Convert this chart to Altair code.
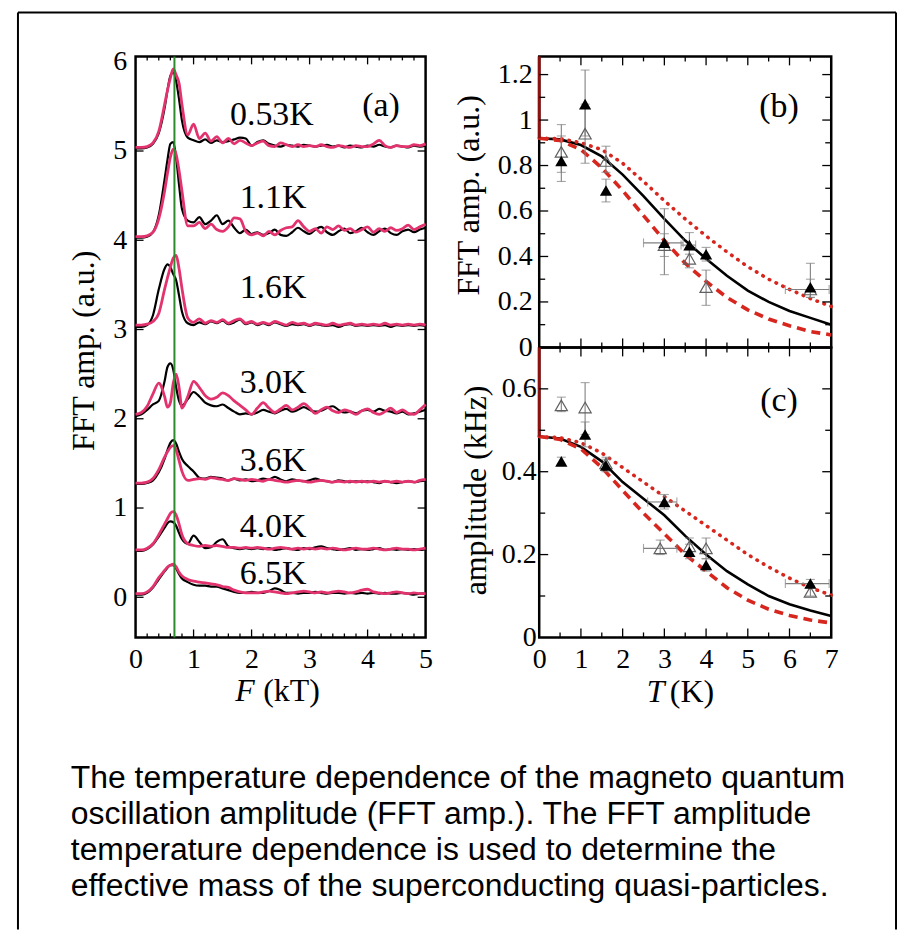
import altair as alt
import pandas as pd

# ---------------- panel (a): FFT spectra ----------------
F = [0.0, 0.1, 0.2, 0.3, 0.4, 0.5, 0.55, 0.6, 0.65, 0.7, 0.75, 0.8,
     0.9, 1.0, 1.1, 1.2, 1.3, 1.4, 1.5, 1.6, 1.7, 1.8, 1.9,
     2.0, 2.1, 2.2, 2.3, 2.4, 2.5, 2.6, 2.7, 2.8, 2.9,
     3.0, 3.1, 3.2, 3.3, 3.4, 3.5, 3.6, 3.7, 3.8, 3.9,
     4.0, 4.1, 4.2, 4.3, 4.4, 4.5, 4.6, 4.7, 4.8, 4.9, 5.0]

temps = ["0.53K", "1.1K", "1.6K", "3.0K", "3.6K", "4.0K", "6.5K"]
offsets = [5.0, 4.0, 3.0, 2.0, 1.25, 0.5, 0.0]
label_F = [2.35, 2.37, 2.37, 2.37, 2.37, 2.37, 2.37]
label_y = [5.40, 4.47, 3.46, 2.40, 1.53, 0.79, 0.26]

pink_053 = [0.04, 0.04, 0.05, 0.09, 0.22, 0.52, 0.68, 0.82, 0.92, 0.85, 0.76, 0.52,
            0.18, 0.30, 0.14, 0.20, 0.11, 0.16, 0.09, 0.14, 0.08, 0.12, 0.09,
            0.06, 0.09, 0.11, 0.06, 0.05, 0.09, 0.07, 0.05, 0.07, 0.05,
            0.06, 0.05, 0.07, 0.05, 0.04, 0.06, 0.05, 0.04, 0.06, 0.05,
            0.05, 0.08, 0.12, 0.06, 0.04, 0.06, 0.05, 0.05, 0.07, 0.06, 0.08]
black_053 = [0.03, 0.03, 0.04, 0.08, 0.20, 0.48, 0.68, 0.84, 0.88, 0.78, 0.58, 0.34,
             0.15, 0.12, 0.10, 0.13, 0.09, 0.12, 0.10, 0.11, 0.13, 0.15, 0.14,
             0.06, 0.10, 0.12, 0.08, 0.06, 0.05, 0.07, 0.06, 0.05, 0.07,
             0.06, 0.05, 0.06, 0.07, 0.05, 0.06, 0.04, 0.06, 0.05, 0.04,
             0.06, 0.05, 0.07, 0.05, 0.04, 0.06, 0.05, 0.04, 0.06, 0.05, 0.06]
pink_11 = [0.04, 0.04, 0.05, 0.09, 0.24, 0.55, 0.75, 0.93, 1.02, 0.96, 0.78, 0.55,
           0.16, 0.16, 0.20, 0.13, 0.18, 0.12, 0.10, 0.15, 0.25, 0.24, 0.10,
           0.06, 0.08, 0.05, 0.10, 0.06, 0.11, 0.14, 0.15, 0.22, 0.15,
           0.10, 0.13, 0.08, 0.15, 0.12, 0.16, 0.11, 0.13, 0.09, 0.12,
           0.15, 0.09, 0.13, 0.10, 0.14, 0.11, 0.13, 0.17, 0.12, 0.15, 0.18]
black_11 = [0.03, 0.03, 0.04, 0.09, 0.28, 0.68, 0.90, 1.08, 1.10, 0.92, 0.62, 0.35,
            0.22, 0.20, 0.26, 0.18, 0.22, 0.28, 0.18, 0.22, 0.14, 0.08, 0.12,
            0.07, 0.09, 0.06, 0.08, 0.12, 0.06, 0.05, 0.09, 0.14, 0.10,
            0.07, 0.12, 0.15, 0.09, 0.06, 0.10, 0.13, 0.08, 0.10, 0.14,
            0.09, 0.06, 0.10, 0.13, 0.08, 0.06, 0.10, 0.12, 0.09, 0.12, 0.14]
pink_16 = [0.05, 0.05, 0.06, 0.09, 0.18, 0.45, 0.58, 0.70, 0.80, 0.83, 0.68, 0.46,
           0.13, 0.08, 0.12, 0.07, 0.10, 0.08, 0.11, 0.07, 0.10, 0.12, 0.07,
           0.09, 0.06, 0.08, 0.06, 0.09, 0.07, 0.05, 0.08, 0.06, 0.07,
           0.05, 0.07, 0.06, 0.05, 0.07, 0.05, 0.06, 0.07, 0.05, 0.06,
           0.05, 0.06, 0.05, 0.07, 0.05, 0.06, 0.05, 0.06, 0.05, 0.06, 0.05]
black_16 = [0.03, 0.03, 0.05, 0.16, 0.45, 0.68, 0.73, 0.70, 0.62, 0.55, 0.38, 0.20,
            0.07, 0.05, 0.08, 0.06, 0.09, 0.07, 0.10, 0.06, 0.08, 0.11, 0.06,
            0.08, 0.05, 0.07, 0.05, 0.08, 0.06, 0.04, 0.06, 0.05, 0.06,
            0.04, 0.06, 0.05, 0.04, 0.05, 0.03, 0.05, 0.06, 0.04, 0.05,
            0.04, 0.05, 0.04, 0.05, 0.03, 0.05, 0.04, 0.05, 0.04, 0.05, 0.04]
pink_30 = [0.05, 0.07, 0.14, 0.28, 0.40, 0.25, 0.13, 0.18, 0.40, 0.50, 0.35, 0.12,
           0.25, 0.42, 0.35, 0.26, 0.22, 0.24, 0.29, 0.26, 0.20, 0.15, 0.10,
           0.05, 0.12, 0.18, 0.12, 0.07, 0.11, 0.15, 0.10, 0.13, 0.17,
           0.12, 0.06, 0.10, 0.13, 0.09, 0.07, 0.10, 0.08, 0.05, 0.09,
           0.11, 0.07, 0.05, 0.08, 0.12, 0.07, 0.10, 0.06, 0.05, 0.10, 0.16]
black_30 = [0.03, 0.05, 0.10, 0.16, 0.20, 0.42, 0.58, 0.62, 0.55, 0.35, 0.20, 0.15,
            0.22, 0.30, 0.25, 0.18, 0.15, 0.14, 0.16, 0.12, 0.08, 0.05, 0.06,
            0.05, 0.07, 0.10, 0.08, 0.06, 0.09, 0.11, 0.08, 0.10, 0.13,
            0.10, 0.08, 0.09, 0.12, 0.14, 0.10, 0.07, 0.08, 0.06, 0.09,
            0.10, 0.08, 0.11, 0.09, 0.08, 0.06, 0.08, 0.05, 0.06, 0.08, 0.10]
pink_36 = [0.03, 0.03, 0.04, 0.08, 0.18, 0.32, 0.38, 0.43, 0.45, 0.40, 0.28, 0.16,
           0.06, 0.07, 0.08, 0.07, 0.09, 0.08, 0.07, 0.06, 0.08, 0.07, 0.06,
           0.07, 0.06, 0.05, 0.07, 0.06, 0.05, 0.04, 0.05, 0.06, 0.05,
           0.04, 0.05, 0.06, 0.05, 0.04, 0.05, 0.04, 0.05, 0.04, 0.05,
           0.04, 0.05, 0.04, 0.05, 0.04, 0.05, 0.04, 0.05, 0.04, 0.06, 0.07]
black_36 = [0.02, 0.02, 0.03, 0.06, 0.15, 0.30, 0.40, 0.48, 0.51, 0.47, 0.38, 0.30,
            0.22, 0.16, 0.09, 0.08, 0.10, 0.09, 0.08, 0.06, 0.08, 0.06, 0.07,
            0.05, 0.06, 0.08, 0.07, 0.10, 0.07, 0.05, 0.07, 0.06, 0.05,
            0.06, 0.08, 0.06, 0.05, 0.04, 0.06, 0.05, 0.04, 0.05, 0.04,
            0.05, 0.04, 0.03, 0.05, 0.04, 0.03, 0.04, 0.05, 0.04, 0.05, 0.06]
pink_40 = [0.03, 0.03, 0.05, 0.10, 0.20, 0.32, 0.38, 0.44, 0.46, 0.42, 0.32, 0.20,
           0.10, 0.08, 0.07, 0.08, 0.07, 0.08, 0.07, 0.06, 0.06, 0.05, 0.06,
           0.05, 0.06, 0.05, 0.04, 0.05, 0.06, 0.05, 0.04, 0.05, 0.04,
           0.05, 0.04, 0.05, 0.04, 0.05, 0.04, 0.03, 0.04, 0.05, 0.04,
           0.04, 0.05, 0.04, 0.03, 0.04, 0.05, 0.04, 0.04, 0.03, 0.04, 0.05]
black_40 = [0.02, 0.02, 0.04, 0.09, 0.18, 0.28, 0.33, 0.35, 0.34, 0.30, 0.22, 0.15,
            0.10, 0.19, 0.12, 0.05, 0.06, 0.12, 0.15, 0.07, 0.05, 0.04, 0.05,
            0.04, 0.05, 0.04, 0.05, 0.03, 0.04, 0.05, 0.04, 0.03, 0.05,
            0.04, 0.06, 0.07, 0.05, 0.04, 0.03, 0.04, 0.05, 0.03, 0.04,
            0.03, 0.04, 0.05, 0.03, 0.04, 0.03, 0.04, 0.03, 0.04, 0.03, 0.04]
pink_65 = [0.04, 0.04, 0.06, 0.12, 0.22, 0.30, 0.34, 0.36, 0.37, 0.34, 0.28, 0.24,
           0.20, 0.18, 0.17, 0.16, 0.15, 0.14, 0.12, 0.11, 0.08, 0.06, 0.05,
           0.05, 0.05, 0.06, 0.07, 0.06, 0.05, 0.04, 0.05, 0.06, 0.07,
           0.06, 0.05, 0.06, 0.05, 0.06, 0.07, 0.06, 0.05, 0.06, 0.08,
           0.09, 0.06, 0.05, 0.04, 0.05, 0.06, 0.05, 0.04, 0.05, 0.04, 0.04]
black_65 = [0.03, 0.03, 0.05, 0.11, 0.20, 0.29, 0.33, 0.36, 0.36, 0.32, 0.26, 0.21,
            0.17, 0.14, 0.13, 0.13, 0.12, 0.12, 0.10, 0.08, 0.06, 0.05, 0.05,
            0.06, 0.05, 0.05, 0.07, 0.10, 0.08, 0.05, 0.05, 0.04, 0.05,
            0.05, 0.06, 0.05, 0.04, 0.05, 0.05, 0.04, 0.05, 0.04, 0.05,
            0.04, 0.05, 0.04, 0.05, 0.04, 0.04, 0.05, 0.04, 0.03, 0.04, 0.04]

pink_sets = [pink_053, pink_11, pink_16, pink_30, pink_36, pink_40, pink_65]
black_sets = [black_053, black_11, black_16, black_30, black_36, black_40, black_65]
green_F = [0.67]

a_x_labels = [0, 1, 2, 3, 4, 5]
a_y_labels = [0, 1, 2, 3, 4, 5, 6]
a_x_major = [1, 2, 3, 4]
a_x_minor = [0.2, 0.4, 0.6, 0.8, 1.2, 1.4, 1.6, 1.8, 2.2, 2.4, 2.6, 2.8,
             3.2, 3.4, 3.6, 3.8, 4.2, 4.4, 4.6, 4.8]
a_y_major = [0, 1, 2, 3, 4, 5]

# ---------------- panels (b) and (c): amplitude vs T ----------------
fit_T = [0.0, 0.5, 1.0, 1.5, 2.0, 2.5, 3.0, 3.5, 4.0, 4.5, 5.0, 5.5, 6.0, 6.5, 7.0]
b_fit_solid = [0.92, 0.915, 0.89, 0.84, 0.76, 0.665, 0.565, 0.47, 0.39, 0.315, 0.25, 0.20, 0.16, 0.13, 0.10]
b_fit_dotted = [0.92, 0.918, 0.90, 0.87, 0.81, 0.73, 0.645, 0.565, 0.49, 0.42, 0.355, 0.30, 0.255, 0.215, 0.18]
b_fit_dashed = [0.92, 0.91, 0.87, 0.79, 0.69, 0.58, 0.47, 0.37, 0.29, 0.22, 0.165, 0.125, 0.095, 0.07, 0.055]
c_fit_solid = [0.485, 0.48, 0.46, 0.425, 0.375, 0.335, 0.295, 0.245, 0.20, 0.16, 0.128, 0.10, 0.08, 0.065, 0.052]
c_fit_dotted = [0.485, 0.482, 0.47, 0.445, 0.41, 0.375, 0.34, 0.305, 0.27, 0.235, 0.20, 0.17, 0.143, 0.12, 0.102]
c_fit_dashed = [0.485, 0.478, 0.455, 0.41, 0.355, 0.30, 0.25, 0.20, 0.16, 0.12, 0.09, 0.068, 0.053, 0.042, 0.035]

pt_T = [0.53, 1.1, 1.6, 3.0, 3.6, 4.0, 6.5]
b_filled = [0.82, 1.07, 0.69, 0.46, 0.45, 0.41, 0.265]
b_filled_lo = [0.73, 0.93, 0.64, 0.32, 0.41, 0.38, 0.22]
b_filled_hi = [0.93, 1.22, 0.74, 0.61, 0.505, 0.44, 0.37]
b_open_T = [0.53, 1.1, 1.6, 3.0, 3.6, 4.0, 6.5]
b_open = [0.86, 0.94, 0.82, 0.45, 0.39, 0.265, 0.255]
b_open_lo = [0.77, 0.81, 0.77, 0.40, 0.35, 0.185, 0.22]
b_open_hi = [0.98, 1.07, 0.885, 0.50, 0.43, 0.34, 0.30]
b_h_y = [0.46, 0.45, 0.255]
b_h_lo = [2.5, 3.4, 5.9]
b_h_hi = [3.45, 3.75, 6.95]

c_filled = [0.425, 0.49, 0.415, 0.327, 0.207, 0.175, 0.13]
c_filled_lo = [0.415, 0.46, 0.40, 0.31, 0.19, 0.16, 0.12]
c_filled_hi = [0.435, 0.52, 0.43, 0.345, 0.225, 0.19, 0.14]
c_open_T = [0.53, 1.1, 1.6, 2.9, 3.6, 4.0, 6.5]
c_open = [0.56, 0.555, 0.42, 0.215, 0.22, 0.215, 0.11]
c_open_lo = [0.545, 0.49, 0.405, 0.20, 0.20, 0.19, 0.10]
c_open_hi = [0.58, 0.615, 0.435, 0.235, 0.24, 0.24, 0.125]
c_h_y = [0.327, 0.215, 0.13]
c_h_lo = [2.6, 2.5, 5.9]
c_h_hi = [3.3, 3.3, 6.95]

bc_x_labels = [0, 1, 2, 3, 4, 5, 6, 7]
bc_x_major = [1, 2, 3, 4, 5, 6]
bc_x_minor = [0.5, 1.5, 2.5, 3.5, 4.5, 5.5, 6.5]
b_y_labels = [0, 0.2, 0.4, 0.6, 0.8, 1, 1.2]
b_y_major = [0.2, 0.4, 0.6, 0.8, 1.0, 1.2]
b_y_minor = [0.1, 0.3, 0.5, 0.7, 0.9, 1.1]
c_y_labels = [0, 0.2, 0.4, 0.6]
c_y_major = [0.2, 0.4, 0.6]
c_y_minor = [0.1, 0.3, 0.5]

caption = ["The temperature dependence of the magneto quantum",
           "oscillation amplitude (FFT amp.). The FFT amplitude",
           "temperature dependence is used to determine the",
           "effective mass of the superconducting quasi-particles."]

SERIF = "Liberation Serif"
SANS = "Liberation Sans"
PINK = "#e2336e"
RED = "#d7261e"
LABEL_FS = 28
TITLE_FS = 32


def label_axis(values, title=None, pad=8, **kw):
    return alt.Axis(values=values, title=title, ticks=False, tickSize=0,
                    domain=False, grid=False, labelPadding=pad,
                    labelFont=SERIF, labelFontSize=LABEL_FS, labelColor="black",
                    labelFlush=False, labelOverlap=False, labelBound=False,
                    format="~g", titleFont=SERIF, titleFontSize=TITLE_FS,
                    titleFontWeight="normal", titleColor="black", **kw)


def tick_layers(xs, ys, xax, yax, w, h, xmaj, xmin, ymaj, ymin, Lmaj, Lmin_x, Lmin_y):
    out = []
    for vals, L in ((xmaj, Lmaj), (xmin, Lmin_x)):
        if vals:
            d = pd.DataFrame({"v": vals})
            base = alt.Chart(d).mark_rule(color="black", strokeWidth=1.3)
            out.append(base.encode(x=alt.X("v:Q", scale=xs, axis=xax),
                                   y=alt.value(h), y2=alt.value(h - L)))
            out.append(base.encode(x=alt.X("v:Q", scale=xs, axis=xax),
                                   y=alt.value(0), y2=alt.value(L)))
    for vals, L in ((ymaj, Lmaj), (ymin, Lmin_y)):
        if vals:
            d = pd.DataFrame({"v": vals})
            base = alt.Chart(d).mark_rule(color="black", strokeWidth=1.3)
            out.append(base.encode(y=alt.Y("v:Q", scale=ys, axis=yax),
                                   x=alt.value(0), x2=alt.value(L)))
            out.append(base.encode(y=alt.Y("v:Q", scale=ys, axis=yax),
                                   x=alt.value(w - L), x2=alt.value(w)))
    return out


one = pd.DataFrame({"k": [0]})

# ---------- panel (a) ----------
AW, AH = 291, 583
xa = alt.Scale(domain=[0, 5], nice=False, zero=False)
ya = alt.Scale(domain=[-0.45, 6.06], nice=False, zero=False)
xa_ax = label_axis(a_x_labels, pad=8)
ya_ax = label_axis(a_y_labels, title="FFT amp. (a.u.)", pad=9,
                   titleX=-52, titleY=295, titleBaseline="middle", titleAngle=-90)

rows_b, rows_p = [], []
for t, off, pk, bk in zip(temps, offsets, pink_sets, black_sets):
    for f, vp, vb in zip(F, pk, bk):
        rows_b.append({"F": f, "amp": off + vb, "T": t})
        rows_p.append({"F": f, "amp": off + vp, "T": t})
df_ab = pd.DataFrame(rows_b)
df_ap = pd.DataFrame(rows_p)

black_a = alt.Chart(df_ab).mark_line(color="black", strokeWidth=2.2, interpolate="monotone").encode(
    x=alt.X("F:Q", scale=xa, axis=xa_ax), y=alt.Y("amp:Q", scale=ya, axis=ya_ax), detail="T:N")
pink_a = alt.Chart(df_ap).mark_line(color=PINK, strokeWidth=2.8, interpolate="monotone").encode(
    x=alt.X("F:Q", scale=xa, axis=xa_ax), y=alt.Y("amp:Q", scale=ya, axis=ya_ax), detail="T:N")
green = alt.Chart(pd.DataFrame({"F": green_F})).mark_rule(color="#2d8a2d", strokeWidth=2).encode(
    x=alt.X("F:Q", scale=xa, axis=xa_ax), y=alt.value(0), y2=alt.value(AH))
lab_df = pd.DataFrame({"F": label_F + [4.23], "y": label_y + [5.50], "t": temps + ["(a)"]})
labels_a = alt.Chart(lab_df).mark_text(font=SERIF, fontSize=34, color="black").encode(
    x=alt.X("F:Q", scale=xa, axis=xa_ax), y=alt.Y("y:Q", scale=ya, axis=ya_ax), text="t:N")

xt_F = alt.Chart(one).mark_text(font=SERIF, fontSize=TITLE_FS, fontStyle="italic", align="left",
                                baseline="middle", color="black").encode(
    x=alt.value(100), y=alt.value(637), text=alt.value("F"))
xt_kT = alt.Chart(one).mark_text(font=SERIF, fontSize=TITLE_FS, align="left",
                                 baseline="middle", color="black").encode(
    x=alt.value(128), y=alt.value(637), text=alt.value("(kT)"))

FL, FR, FT, FB = -118, 763, -44, 876
frame_l = alt.Chart(one).mark_rule(color="black", strokeWidth=2).encode(
    x=alt.value(FL), y=alt.value(FT), y2=alt.value(FB))
frame_r = alt.Chart(one).mark_rule(color="black", strokeWidth=2).encode(
    x=alt.value(FR), y=alt.value(FT), y2=alt.value(FB))
frame_t = alt.Chart(one).mark_rule(color="black", strokeWidth=2).encode(
    x=alt.value(FL), x2=alt.value(FR), y=alt.value(FT))
cap = alt.Chart(one).mark_text(font=SANS, fontSize=32, lineHeight=36, align="left",
                               baseline="top", color="black").encode(
    x=alt.value(-65), y=alt.value(709), text=alt.value(caption))

panel_a = alt.layer(
    black_a, pink_a, green, labels_a, xt_F, xt_kT, frame_l, frame_r, frame_t, cap,
    *tick_layers(xa, ya, xa_ax, ya_ax, AW, AH, a_x_major, a_x_minor, a_y_major, [], 8, 4, 4)
).properties(width=AW, height=AH)


# ---------- panels (b), (c) ----------
def tpanel(w, h, ydom, fit_solid, fit_dot, fit_dash, filled, flo, fhi, oT, op, olo, ohi,
           hy, hlo, hhi, ylabels, ymaj, ymin, title, tX, tY, pad, show_x, tag, tag_y):
    xs = alt.Scale(domain=[0, 7], nice=False, zero=False)
    ys = alt.Scale(domain=ydom, nice=False, zero=False)
    xax = label_axis(bc_x_labels, pad=8) if show_x else None
    yax = label_axis(ylabels, title=title, pad=pad, titleX=tX, titleY=tY,
                     titleBaseline="middle", titleAngle=-90)

    def X(f):
        return alt.X(f, scale=xs, axis=xax)

    def Y(f):
        return alt.Y(f, scale=ys, axis=yax)

    fit = pd.DataFrame({"T": fit_T, "s": fit_solid, "d": fit_dot, "e": fit_dash})
    solid = alt.Chart(fit).mark_line(color="black", strokeWidth=2.6).encode(x=X("T:Q"), y=Y("s:Q"))
    dot = alt.Chart(fit).mark_line(color=RED, strokeWidth=3.6, strokeDash=[0.5, 7], strokeCap="round").encode(
        x=X("T:Q"), y=Y("d:Q"))
    dash = alt.Chart(fit).mark_line(color=RED, strokeWidth=3.6, strokeDash=[9, 6]).encode(
        x=X("T:Q"), y=Y("e:Q"))
    axis_red = alt.Chart(pd.DataFrame({"T": [0], "lo": [fit_solid[0]], "hi": [ydom[1]]})).mark_rule(
        color="#8b1010", strokeWidth=3).encode(x=X("T:Q"), y=Y("lo:Q"), y2="hi:Q")
    fdf = pd.DataFrame({"T": pt_T, "v": filled, "lo": flo, "hi": fhi})
    odf = pd.DataFrame({"T": oT, "v": op, "lo": olo, "hi": ohi})
    hdf = pd.DataFrame({"y": hy, "lo": hlo, "hi": hhi})
    err = []
    for d in (odf, fdf):
        err.append(alt.Chart(d).mark_rule(color="#808080", strokeWidth=1.1).encode(
            x=X("T:Q"), y=Y("lo:Q"), y2="hi:Q"))
        for fld in ("lo", "hi"):
            err.append(alt.Chart(d).mark_tick(color="#808080", orient="horizontal", size=9, thickness=1.1).encode(
                x=X("T:Q"), y=Y(fld + ":Q")))
    err.append(alt.Chart(hdf).mark_rule(color="#808080", strokeWidth=1.1).encode(
        x=X("lo:Q"), x2="hi:Q", y=Y("y:Q")))
    for fld in ("lo", "hi"):
        err.append(alt.Chart(hdf).mark_tick(color="#808080", orient="vertical", size=9, thickness=1.1).encode(
            x=X(fld + ":Q"), y=Y("y:Q")))
    opn = alt.Chart(odf).mark_point(shape="triangle-up", filled=False, size=150, color="#606060",
                                    strokeWidth=1.2, opacity=1).encode(x=X("T:Q"), y=Y("v:Q"))
    fil = alt.Chart(fdf).mark_point(shape="triangle-up", filled=True, size=150, color="black",
                                    opacity=1).encode(x=X("T:Q"), y=Y("v:Q"))
    tagc = alt.Chart(pd.DataFrame({"T": [5.75], "y": [tag_y], "t": [tag]})).mark_text(
        font=SERIF, fontSize=34, color="black").encode(x=X("T:Q"), y=Y("y:Q"), text="t:N")
    layers = [solid, dot, dash, axis_red] + err + [opn, fil, tagc]
    if show_x:
        layers.append(alt.Chart(one).mark_text(font=SERIF, fontSize=TITLE_FS, fontStyle="italic",
                                               align="left", baseline="middle", color="black").encode(
            x=alt.value(108), y=alt.value(346), text=alt.value("T")))
        layers.append(alt.Chart(one).mark_text(font=SERIF, fontSize=TITLE_FS, align="left",
                                               baseline="middle", color="black").encode(
            x=alt.value(131), y=alt.value(346), text=alt.value("(K)")))
    layers += tick_layers(xs, ys, xax, yax, w, h, bc_x_major, bc_x_minor, ymaj, ymin, 9, 5, 6)
    return alt.layer(*layers).properties(width=w, height=h)


panel_b = tpanel(293, 292, [0, 1.28], b_fit_solid, b_fit_dotted, b_fit_dashed,
                 b_filled, b_filled_lo, b_filled_hi, b_open_T, b_open, b_open_lo, b_open_hi,
                 b_h_y, b_h_lo, b_h_hi, b_y_labels, b_y_major, b_y_minor,
                 "FFT amp. (a.u.)", -71, 139, 7, False, "(b)", 1.057)
panel_c = tpanel(293, 291, [0, 0.70], c_fit_solid, c_fit_dotted, c_fit_dashed,
                 c_filled, c_filled_lo, c_filled_hi, c_open_T, c_open, c_open_lo, c_open_hi,
                 c_h_y, c_h_lo, c_h_hi, c_y_labels, c_y_major, c_y_minor,
                 "amplitude (kHz)", -64, 143, 3, True, "(c)", 0.57)

right = alt.vconcat(panel_b, panel_c, spacing=0, bounds="flush")
chart = alt.hconcat(panel_a, right, spacing=114, bounds="flush",
                    padding={"left": 7, "top": 0, "right": 0, "bottom": 0},
                    background="white"
                    ).configure_view(stroke="black", strokeWidth=2.5)

chart.save("out.html", embed_options={"renderer": "svg", "actions": False})
